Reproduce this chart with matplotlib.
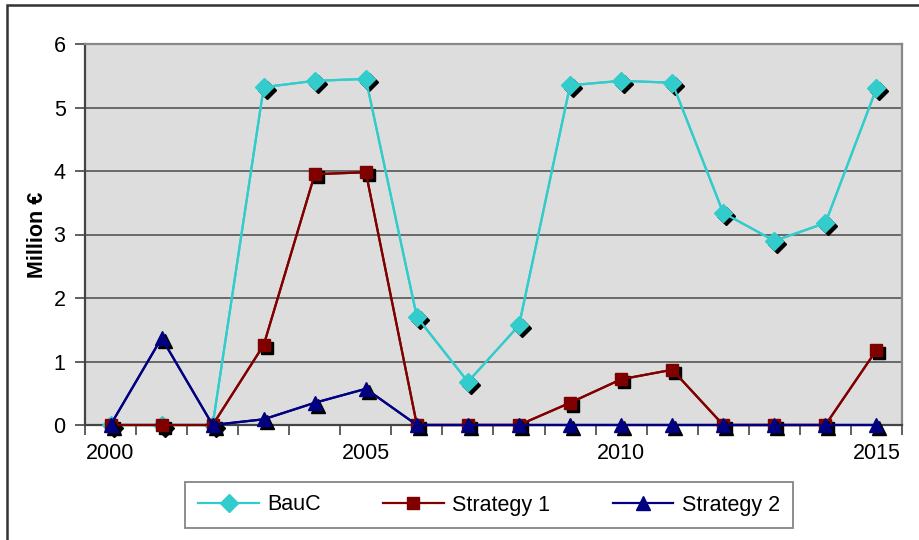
import matplotlib
matplotlib.use("Agg")
import matplotlib.pyplot as plt
import matplotlib.transforms as mtransforms
from matplotlib.patches import Rectangle

plt.rcParams['font.family'] = ['Liberation Sans', 'DejaVu Sans']

years = list(range(2000, 2016))
tick_labels = ["2000", "2005", "2010", "2015"]
bauc = [0, 0, 0, 5.32, 5.42, 5.45, 1.70, 0.68, 1.57, 5.35, 5.42, 5.39, 3.34, 2.90, 3.18, 5.30]
strategy1 = [0, 0, 0, 1.26, 3.95, 3.98, 0, 0, 0, 0.35, 0.72, 0.87, 0, 0, 0, 1.18]
strategy2 = [0, 1.37, 0, 0.09, 0.35, 0.57, 0, 0, 0, 0, 0, 0, 0, 0, 0, 0]

series = [
    ("BauC", bauc, "#33CCCC", "D", 9),
    ("Strategy 1", strategy1, "#800000", "s", 9),
    ("Strategy 2", strategy2, "#000080", "^", 10.5),
]

fig = plt.figure(figsize=(9.2, 5.4), dpi=100)
ax = fig.add_axes([85 / 920, 1 - 425 / 540, 817 / 920, 381 / 540])
ax.set_facecolor("#DDDDDD")

x = list(range(len(years)))
shadow = ax.transData + mtransforms.ScaledTranslation(3 / 100, -3 / 100, fig.dpi_scale_trans)

handles = []
for i, (name, vals, color, marker, ms) in enumerate(series):
    ax.plot(x, vals, color=color, lw=1.6, zorder=3 + i * 3, clip_on=False)
    ax.plot(x, vals, ls="none", marker=marker, ms=ms, color="black",
            transform=shadow, zorder=4 + i * 3, clip_on=False)
    h, = ax.plot(x, vals, color=color, lw=1.6, marker=marker, ms=ms,
                 mec=color, mfc=color, zorder=5 + i * 3, label=name, clip_on=False)
    handles.append(h)

ax.set_xlim(-0.5, len(years) - 0.5)
ax.set_ylim(0, 6)
ax.set_yticks(range(0, 7))
ax.yaxis.grid(True, color="#555555", lw=1.2, zorder=1)
ax.set_axisbelow(True)

# tick marks between categories, labels every five years
ax.set_xticks([i - 0.5 for i in range(len(years) + 1)])
ax.set_xticklabels([])
ax.tick_params(axis="x", which="major", length=7, width=1.2, direction="out", color="#444444")
ax.set_xticks([years.index(int(t)) for t in tick_labels], minor=True)
ax.set_xticklabels(tick_labels, minor=True)
ax.tick_params(axis="x", which="minor", length=0, pad=13, labelsize=15.5)
ax.tick_params(axis="y", length=7, width=1.2, direction="out", color="#444444",
               labelsize=15.5, pad=7)

for side in ("top", "right"):
    ax.spines[side].set_color("#888888")
    ax.spines[side].set_linewidth(1.6)
for side in ("left", "bottom"):
    ax.spines[side].set_color("#444444")
    ax.spines[side].set_linewidth(1.6)

ax.set_ylabel("Million €", fontsize=15.5, fontweight="bold", labelpad=4)

leg = fig.legend(handles=handles, loc="center", ncol=3,
                 bbox_to_anchor=(489 / 920, 1 - 505 / 540),
                 frameon=True, fancybox=False, edgecolor="#666666",
                 fontsize=15.5, handlelength=2.8, columnspacing=2.9,
                 borderpad=0.6, handletextpad=0.4)
leg.get_frame().set_linewidth(1.3)

fig.patches.append(Rectangle((7 / 920, -0.05), 1.0, 1 - 5 / 540 + 0.05,
                             transform=fig.transFigure, fill=False,
                             edgecolor="#333333", lw=1.8))

fig.savefig("out.png", dpi=100)
